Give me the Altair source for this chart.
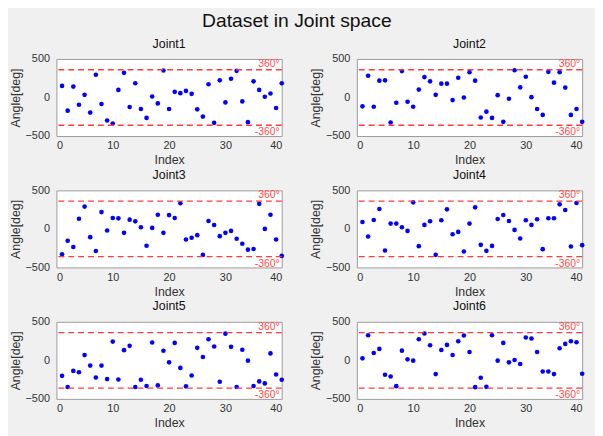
import altair as alt
import pandas as pd

index = list(range(1, 41))
joint1 = [150, -171, 141, -94, 34, -196, 295, -85, -299, -337, 98, 320, -124, 184, -149, -265, 13, -77, 350, -149,
          73, 56, 85, 47, -154, -248, 171, -329, 222, -64, 243, 346, -51, -320, 209, 98, 9, 51, -137, 184]
joint2 = [-115, 282, -120, 218, 222, -325, -68, 342, -56, -120, 102, 265, 209, 34, 179, 179, -34, 256, 0, 329,
          218, -260, -184, -265, 30, -316, -17, 354, 132, 269, 4, -149, -226, 333, 192, 329, 128, -226, -149, -316]
joint3 = [-329, -154, -235, 132, 290, -107, -286, 218, -21, 141, 137, -51, 120, 98, 21, -218, 13, 184, -51, 179,
          141, 333, -137, -115, -81, -337, 102, 51, -94, -51, -26, -128, -192, -269, -260, 325, 0, 184, -137, -350]
joint4 = [90, -99, 116, 259, -280, 69, 69, 22, -26, 345, -224, 52, 99, -336, 112, 254, -69, -39, -293, 69,
          280, -207, -284, -220, 129, 181, 103, -13, -125, 112, 52, 125, -263, 138, 138, 319, 246, -228, 336, -211]
joint5 = [-201, -346, -137, -154, 68, -68, -222, -68, -243, 243, -248, 132, 188, -346, -252, -333, 231, -325, 124, -26,
          226, -98, -337, -196, 162, 43, 273, 179, -278, 346, 175, -346, 137, -4, -333, -273, -299, 90, -184, -252]
joint6 = [26, 326, 96, 148, -187, -209, -335, 126, 13, -4, 274, 348, 196, -178, 135, 200, 70, 248, 322, 109,
          -348, -226, -344, 326, -4, 226, -26, 4, -48, 296, 283, 109, -144, -144, -178, 157, 213, 248, 235, -174]

joint_names = ["Joint1", "Joint2", "Joint3", "Joint4", "Joint5", "Joint6"]
joint_values = [joint1, joint2, joint3, joint4, joint5, joint6]
limit_values = [360, -360]
limit_labels = ["360°", "-360°"]
x_ticks = [0, 10, 20, 30, 40]
y_ticks = [-500, 0, 500]

FONT = "Liberation Sans"
W, H = 228, 78

limits_df = pd.DataFrame({"Angle": limit_values, "label": limit_labels, "Index": [40, 40]})


def enc():
    xs = alt.Scale(domain=[0, 40], nice=False)
    ys = alt.Scale(domain=[-500, 500], nice=False)
    x = alt.X("Index:Q", scale=xs, title="Index",
              axis=alt.Axis(values=x_ticks, labelOverlap=False))
    y = alt.Y("Angle:Q", scale=ys, title="Angle[deg]",
              axis=alt.Axis(values=y_ticks, labelOverlap=False, labelFlush=False))
    return x, y


def panel(name, vals):
    df = pd.DataFrame({"Index": index, "Angle": vals})
    x, y = enc()
    pts = alt.Chart(df).mark_circle(size=22, color="#0000ff", opacity=1).encode(x=x, y=y)
    rules = alt.Chart(limits_df).mark_rule(color="#ff3b3b", strokeDash=[6, 4], strokeWidth=1.4).encode(y=y)
    top = alt.Chart(limits_df[limits_df.Angle > 0]).mark_text(
        align="right", baseline="bottom", dx=-2, dy=-1, fontSize=10.5, color="#ff4a4a", font=FONT
    ).encode(x=x, y=y, text="label:N")
    bot = alt.Chart(limits_df[limits_df.Angle < 0]).mark_text(
        align="right", baseline="top", dx=-2, dy=2, fontSize=10.5, color="#ff4a4a", font=FONT
    ).encode(x=x, y=y, text="label:N")
    return alt.layer(pts, rules, top, bot).properties(
        width=W, height=H,
        title=alt.TitleParams(name, fontSize=12.5, fontWeight="normal", font=FONT, color="#111111", offset=3),
    )


panels = [panel(n, v) for n, v in zip(joint_names, joint_values)]
rows = [alt.hconcat(panels[i], panels[i + 1], spacing=24) for i in range(0, 6, 2)]
chart = alt.vconcat(*rows, spacing=2).properties(
    title=alt.TitleParams("Dataset in Joint space", fontSize=19.5, fontWeight="normal", font=FONT,
                          color="#111111", anchor="middle", offset=6),
    background="#f0f0f0",
    padding={"left": 0, "right": 10, "top": 0, "bottom": 4},
).configure_view(
    fill="white", stroke="#9a9a9a", strokeWidth=1
).configure_axis(
    labelFont=FONT, titleFont=FONT, labelFontSize=11, titleFontSize=12.5,
    labelColor="#333333", titleColor="#333333", titleFontWeight="normal", grid=False, domain=False,
    ticks=False, labelPadding=4, titlePadding=3,
).configure_axisY(labelPadding=7, titlePadding=3)

chart.save("out.html", embed_options={"renderer": "svg", "actions": False})
